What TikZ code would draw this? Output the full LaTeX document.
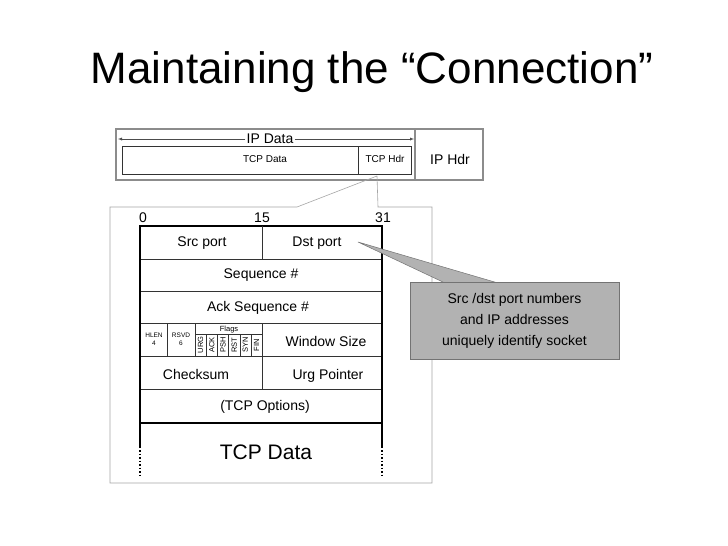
\documentclass[tikz,border=0pt]{standalone}
\usepackage{fontspec}
\setmainfont{Liberation Sans}
\begin{document}
\begin{tikzpicture}[x=1pt,y=-1pt,
  lbl/.style={inner sep=0pt,font=\fontsize{14}{16}\selectfont},
  sml/.style={inner sep=0pt,font=\fontsize{10}{12}\selectfont},
  tiny/.style={inner sep=0pt,font=\fontsize{6.5}{7}\selectfont},
  thin/.style={draw=black!80,line width=0.5pt},
  thick/.style={draw=black,line width=2pt},
  graybox/.style={draw=black!45,line width=2.5pt},
  frame/.style={draw=black!35,line width=0.6pt}]
\useasboundingbox (0,0) rectangle (728,546);
\fill[white] (0,0) rectangle (728,546);
\node[inner sep=0pt,font=\fontsize{44}{50}\selectfont] (title) at (372,72) {Maintaining the “Connection”};
% IP packet
\draw[graybox] (116,129) rectangle (483,180);
\draw[graybox] (415,129) -- (415,180);
\draw[thin] (122,146) rectangle (411,174);
\draw[thin] (358,146) -- (358,174);
\node[sml] (tcpd) at (265,159) {TCP Data};
\node[sml] (tcph) at (385,159) {TCP Hdr};
\node[lbl] (iph) at (450,159) {IP Hdr};
\coordinate (al) at (118,139);
\coordinate (ar) at (414,139);
\node[lbl,fill=white,inner xsep=1pt] (ipd) at (270,139) {IP Data};
\draw[black!70,-latex] (ipd.west) -- (al);
\draw[black!70,-latex] (ipd.east) -- (ar);
% callout frame
\coordinate (f1) at (297,207); \coordinate (f2) at (110,207);
\coordinate (f3) at (110,483); \coordinate (f4) at (432,483);
\coordinate (f5) at (432,207); \coordinate (f6) at (378,207);
\coordinate (hp) at (377,176);
\draw[frame] (hp) -- (f1) -- (f2) -- (f3) -- (f4) -- (f5) -- (f6) -- (hp);
% bit labels
\node[lbl] (b0) at (143,218) {0};
\node[lbl] (b15) at (262,218) {15};
\node[lbl] (b31) at (383,218) {31};
% header
\draw[thick] (140,226) -- (382,226);
\draw[thin] (262,226) -- (262,259);
\foreach \y in {259,291,323,356,389} \draw[thin] (140,\y) -- (382,\y);
\draw[thin] (262,323) -- (262,389);
\draw[thick] (140,423) -- (382,423);
\draw[thick] (140,225) -- (140,448);
\draw[thick] (382,225) -- (382,448);
\draw[thick,line width=1.5pt,dotted] (140,450) -- (140,475);
\draw[thick,line width=1.5pt,dotted] (382,450) -- (382,475);
\node[lbl] (src) at (202,243) {Src port};
\node[lbl] (dst) at (317,243) {Dst port};
\node[lbl] (seq) at (261,275) {Sequence \#};
\node[lbl] (ack) at (258,308) {Ack Sequence \#};
\node[lbl] (win) at (326,341) {Window Size};
\node[lbl,anchor=base] (chk) at (196,379) {Checksum};
\node[lbl,anchor=base] (urg) at (328,379) {Urg Pointer};
\node[lbl] (opt) at (265,407) {(TCP Options)};
\node[inner sep=0pt,font=\fontsize{21}{24}\selectfont] (data) at (266,452) {TCP Data};
% flags row
\draw[thin] (167,323) -- (167,356);
\draw[thin] (195,323) -- (195,356);
\draw[thin] (195,334) -- (262,334);
\foreach \i in {1,...,5} \draw[thin] (195+\i*11.2,334) -- (195+\i*11.2,356);
\node[tiny,align=center] (hlen) at (154,339) {HLEN\\[1pt]4};
\node[tiny,align=center] (rsvd) at (181,339) {RSVD\\[1pt]6};
\node[tiny,font=\fontsize{7.5}{8}\selectfont] (flg) at (229,330) {Flags};
\foreach \n [count=\i from 0] in {URG,ACK,PSH,RST,SYN,FIN}
  \node[tiny,font=\fontsize{7.5}{8}\selectfont,rotate=90] (fl\i) at (200.6+\i*11.2,345) {\n};
% callout
\coordinate (tip) at (358,242);
\coordinate (cb1) at (445,283);
\coordinate (cb2) at (498,283);
\fill[black!30] (tip) -- (cb1) -- (cb2) -- cycle;
\draw[black!55,line width=0.5pt] (cb1) -- (tip) -- (cb2);
\node[draw=black!55,fill=black!30,minimum width=209pt,minimum height=77pt,inner sep=0pt,align=center,
  font=\fontsize{14}{21}\selectfont] (call) at (514.5,320.5) {Src /dst port numbers\\and IP addresses\\uniquely identify socket};
\end{tikzpicture}
\end{document}
